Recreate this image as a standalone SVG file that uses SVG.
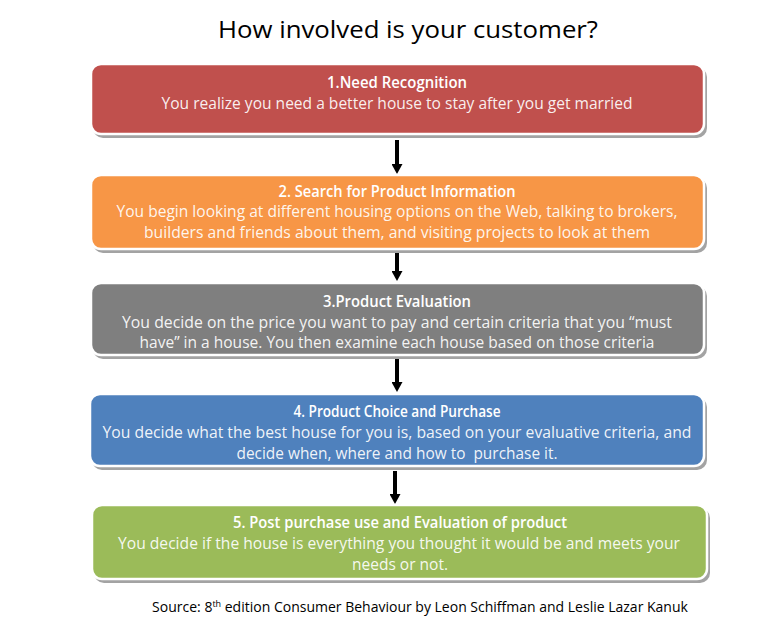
<svg xmlns="http://www.w3.org/2000/svg" width="768" height="626" viewBox="0 0 768 626">
<defs>
<style>
text{font-family:"Open Sans","Liberation Sans",sans-serif;text-anchor:middle}
.title{font-size:24px;fill:#000}
.h{font-size:16px;font-weight:600;fill:#ffffff}
.b{font-size:15.5px;fill:#ffffff;fill-opacity:0.92}
.src{font-size:14px;fill:#000}
.shadow{fill:#a3a3a3}
.box{stroke:#ffffff;stroke-width:2.5}
.conn{stroke:#000;stroke-width:4;fill:none}
</style>
<marker id="ah" markerUnits="userSpaceOnUse" markerWidth="12" markerHeight="11" viewBox="0 0 11 12" refX="0" refY="6" orient="auto">
<path d="M0,0 L11,6 L0,12 z" fill="#000"/>
</marker>
</defs>
<rect width="768" height="626" fill="#ffffff"/>
<text class="title" x="408" y="38" textLength="380" lengthAdjust="spacingAndGlyphs">How involved is your customer?</text>

<g id="connectors">
<line class="conn" x1="397" y1="140" x2="397" y2="164" marker-end="url(#ah)"/>
<line class="conn" x1="397" y1="249" x2="397" y2="271" marker-end="url(#ah)"/>
<line class="conn" x1="397" y1="359" x2="397" y2="382" marker-end="url(#ah)"/>
<line class="conn" x1="395" y1="471" x2="395" y2="494" marker-end="url(#ah)"/>
</g>

<g id="node1">
<rect class="shadow" x="93" y="67" width="614" height="71" rx="10"/>
<rect class="box" x="91" y="64" width="613" height="70" rx="10" fill="#c0504d"/>
<text class="h" x="397" y="88" textLength="140" lengthAdjust="spacingAndGlyphs">1.Need Recognition</text>
<text class="b" x="397" y="109" textLength="471" lengthAdjust="spacingAndGlyphs">You realize you need a better house to stay after you get married</text>
</g>

<g id="node2">
<rect class="shadow" x="93" y="178" width="614" height="75" rx="10"/>
<rect class="box" x="91" y="175" width="613" height="74" rx="10" fill="#f79646"/>
<text class="h" x="397" y="197" textLength="237" lengthAdjust="spacingAndGlyphs">2. Search for Product Information</text>
<text class="b" x="397" y="217" textLength="561" lengthAdjust="spacingAndGlyphs">You begin looking at different housing options on the Web, talking to brokers,</text>
<text class="b" x="397" y="238" textLength="506" lengthAdjust="spacingAndGlyphs">builders and friends about them, and visiting projects to look at them</text>
</g>

<g id="node3">
<rect class="shadow" x="93" y="286" width="614" height="73" rx="10"/>
<rect class="box" x="91" y="283" width="613" height="72" rx="10" fill="#7f7f7f"/>
<text class="h" x="397" y="307" textLength="148" lengthAdjust="spacingAndGlyphs">3.Product Evaluation</text>
<text class="b" x="397" y="328" textLength="550" lengthAdjust="spacingAndGlyphs">You decide on the price you want to pay and certain criteria that you “must</text>
<text class="b" x="397" y="348" textLength="515" lengthAdjust="spacingAndGlyphs">have” in a house. You then examine each house based on those criteria</text>
</g>

<g id="node4">
<rect class="shadow" x="92" y="397" width="615" height="73" rx="10"/>
<rect class="box" x="90" y="394" width="614" height="72" rx="10" fill="#4f81bd"/>
<text class="h" x="397" y="417" textLength="207" lengthAdjust="spacingAndGlyphs">4. Product Choice and Purchase</text>
<text class="b" x="397" y="438" textLength="589" lengthAdjust="spacingAndGlyphs">You decide what the best house for you is, based on your evaluative criteria, and</text>
<text class="b" x="397" y="459" textLength="321" lengthAdjust="spacingAndGlyphs">decide when, where and how to&#160; purchase it.</text>
</g>

<g id="node5">
<rect class="shadow" x="94" y="508" width="616" height="75" rx="10"/>
<rect class="box" x="92" y="505" width="615" height="74" rx="10" fill="#9bbb59"/>
<text class="h" x="400" y="528" textLength="334" lengthAdjust="spacingAndGlyphs">5. Post purchase use and Evaluation of product</text>
<text class="b" x="399" y="549" textLength="562" lengthAdjust="spacingAndGlyphs">You decide if the house is everything you thought it would be and meets your</text>
<text class="b" x="400" y="570" textLength="96" lengthAdjust="spacingAndGlyphs">needs or not.</text>
</g>

<text class="src" x="420" y="612">Source: 8<tspan font-size="9" dy="-5">th</tspan><tspan dy="5"> edition Consumer Behaviour by Leon Schiffman and Leslie Lazar Kanuk</tspan></text>
</svg>
